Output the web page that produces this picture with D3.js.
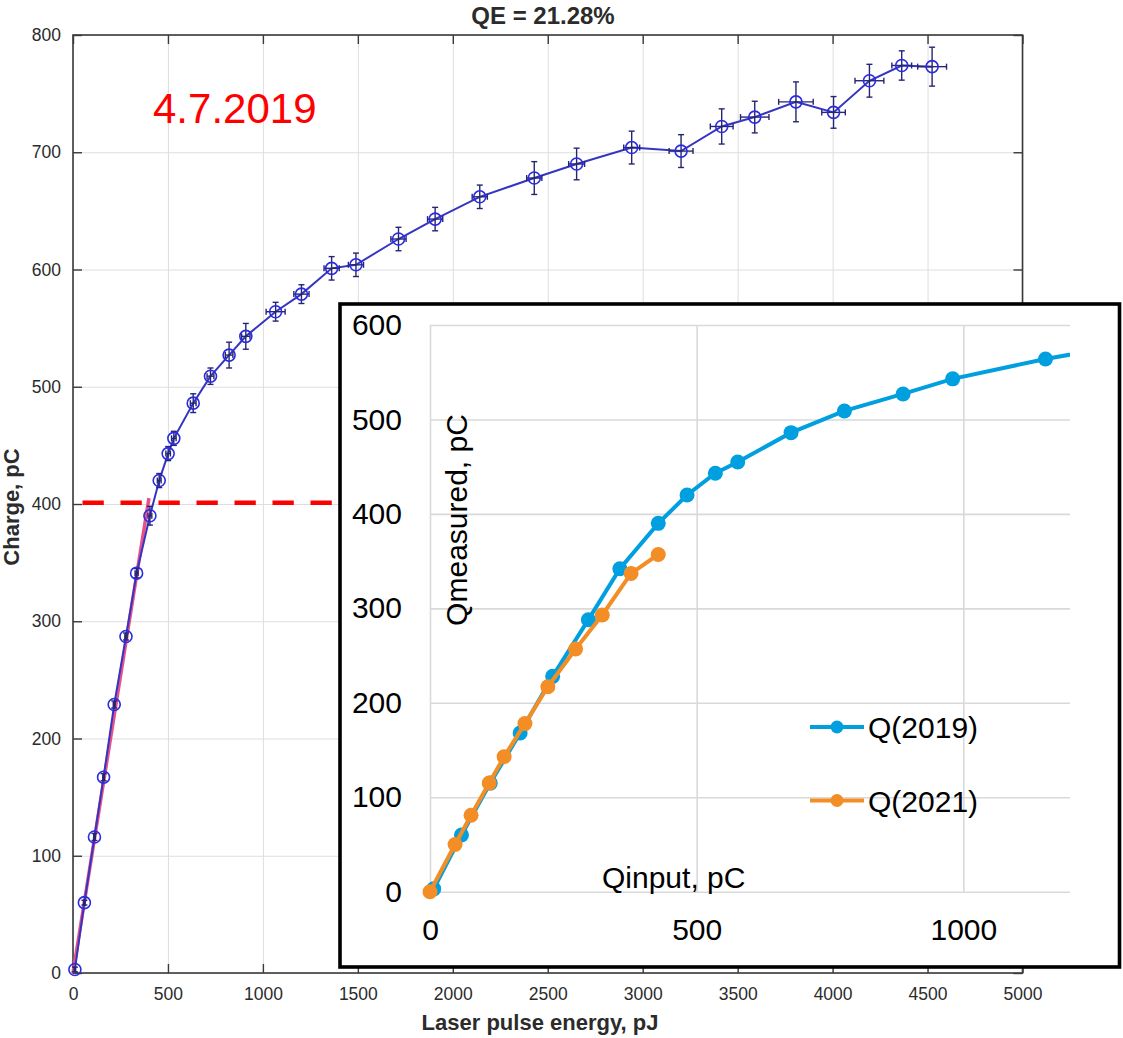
<!DOCTYPE html>
<html>
<head>
<meta charset="utf-8">
<script src="https://cdn.jsdelivr.net/npm/d3@7"></script>
<style>
  body { margin: 0; background: #fff; }
  text { font-family: "Liberation Sans", Arial, Helvetica, sans-serif; }
</style>
</head>
<body>
<div class="chart"></div>
<script>
// main chart: 4.7.2019 measurement, charge vs laser pulse energy
const energy = [10, 60, 113, 161, 217, 279, 335, 405, 454, 501, 531, 633, 724, 822, 910, 1067, 1203,
  1362, 1490, 1714, 1907, 2142, 2429, 2652, 2942, 3202, 3416, 3590, 3807, 4005, 4194, 4364, 4524];
const charge = [3, 60, 116, 167, 229, 287, 341, 390, 420, 443, 456, 486, 509, 527, 543, 564, 579,
  601, 604, 626, 643, 662, 678, 690, 704, 701, 722, 730, 743, 734, 761, 774, 773];
const energyErr = [4, 4, 4, 4, 5, 6, 8, 10, 10, 12, 12, 15, 18, 20, 22, 50, 40,
  40, 40, 40, 40, 40, 40, 42, 42, 63, 60, 75, 91, 62, 76, 52, 76];
const chargeErr = [2, 2, 3, 3, 3, 3, 4, 8, 6, 6, 6, 8, 7, 11, 11, 8, 8,
  10, 10, 10, 10, 10, 14, 13.5, 14, 14, 15, 13.5, 17, 13.5, 14, 12.5, 16.6];
const fitEnergy = [0, 400];
const fitCharge = [0, 405];
const thresholdEnergy = [50, 1400];
const thresholdCharge = 401;
const mainXTicks = [0, 500, 1000, 1500, 2000, 2500, 3000, 3500, 4000, 4500, 5000];
const mainYTicks = [0, 100, 200, 300, 400, 500, 600, 700, 800];
const mainTitle = 'QE = 21.28%';
const dateLabel = '4.7.2019';

// inset: measured vs input charge
const seriesNames = ['Q(2019)', 'Q(2021)'];
const q2019Input = [7, 59, 113, 169, 230, 297, 356, 428, 482, 535, 577, 677, 777, 887, 980, 1154, 1302];
const q2019Measured = [3, 60, 115, 168, 228, 288, 342, 390, 420, 443, 455, 486, 509, 527, 543, 564, 579];
const q2021Input = [0, 47, 77, 111, 139, 178, 221, 273, 323, 377, 428];
const q2021Measured = [0, 50, 81, 115, 143, 178, 217, 257, 293, 337, 357];
const insetXTicks = [0, 500, 1000];
const insetYTicks = [0, 100, 200, 300, 400, 500, 600];

draw();

function draw() {
  const W = 1123, H = 1038;
  const svg = d3.select('.chart').append('svg')
    .attr('width', W)
    .attr('height', H);
  svg.append('rect').attr('width', W).attr('height', H).attr('fill', '#fff');

  const fmt = d3.format('d');

  // ---------- main chart ----------
  const x = d3.scaleLinear().domain([0, 5000]).range([73, 1022.5]);
  const y = d3.scaleLinear().domain([0, 800]).range([973, 35]);
  const ink = '#2b2b2b';

  svg.append('g')
    .attr('transform', `translate(0,${ y(0) })`)
    .call(d3.axisBottom(x).tickValues(mainXTicks).tickSize(-(y(0) - y(800))).tickFormat(''))
    .call(g => g.select('.domain').remove())
    .call(g => g.selectAll('line').attr('stroke', '#dedede'));
  svg.append('g')
    .attr('transform', `translate(${ x(0) },0)`)
    .call(d3.axisLeft(y).tickValues(mainYTicks).tickSize(-(x(5000) - x(0))).tickFormat(''))
    .call(g => g.select('.domain').remove())
    .call(g => g.selectAll('line').attr('stroke', '#dedede'));

  svg.append('rect')
    .attr('x', x(0)).attr('y', y(800))
    .attr('width', x(5000) - x(0)).attr('height', y(0) - y(800))
    .attr('fill', 'none').attr('stroke', '#3a3a3a').attr('stroke-width', 1.6);

  const styleAxis = (g, size) => {
    g.select('.domain').remove();
    g.attr('font-family', '"Liberation Sans", Arial, sans-serif').attr('font-size', size);
    g.selectAll('line').attr('stroke', '#3a3a3a').attr('stroke-width', 1.4);
    g.selectAll('text').attr('fill', ink);
  };

  svg.append('g')
    .attr('transform', `translate(0,${ y(0) })`)
    .call(d3.axisBottom(x).tickValues(mainXTicks).tickFormat(fmt).tickSizeInner(-9).tickSizeOuter(0).tickPadding(15))
    .call(g => styleAxis(g, 17.5));
  svg.append('g')
    .attr('transform', `translate(${ x(0) },0)`)
    .call(d3.axisLeft(y).tickValues(mainYTicks).tickFormat(fmt).tickSizeInner(-9).tickSizeOuter(0).tickPadding(12))
    .call(g => styleAxis(g, 17.5));
  svg.append('g')
    .attr('transform', `translate(0,${ y(800) })`)
    .call(d3.axisTop(x).tickValues(mainXTicks).tickSizeInner(-9).tickSizeOuter(0).tickFormat(''))
    .call(g => styleAxis(g, 17.5));
  svg.append('g')
    .attr('transform', `translate(${ x(5000) },0)`)
    .call(d3.axisRight(y).tickValues(mainYTicks).tickSizeInner(-9).tickSizeOuter(0).tickFormat(''))
    .call(g => styleAxis(g, 17.5));

  svg.append('text')
    .attr('x', 543).attr('y', 24)
    .attr('text-anchor', 'middle')
    .attr('font-size', 24).attr('font-weight', 'bold').attr('fill', ink)
    .text(mainTitle);
  svg.append('text')
    .attr('x', 540).attr('y', 1030)
    .attr('text-anchor', 'middle')
    .attr('font-size', 22).attr('font-weight', 'bold').attr('fill', ink)
    .text('Laser pulse energy, pJ');
  svg.append('text')
    .attr('transform', 'translate(19,507) rotate(-90)')
    .attr('text-anchor', 'middle')
    .attr('font-size', 22).attr('font-weight', 'bold').attr('fill', ink)
    .text('Charge, pC');
  svg.append('text')
    .attr('x', 153).attr('y', 123)
    .attr('font-size', 42).attr('fill', '#ff0000')
    .text(dateLabel);

  // linear fit
  svg.append('line')
    .attr('x1', x(fitEnergy[0])).attr('y1', y(fitCharge[0]))
    .attr('x2', x(fitEnergy[1])).attr('y2', y(fitCharge[1]))
    .attr('stroke', '#e8508a').attr('stroke-width', 3.5);

  const mainLine = d3.line().x(i => x(energy[i])).y(i => y(charge[i]));
  const idx = d3.range(energy.length);
  svg.append('path')
    .attr('d', mainLine(idx))
    .attr('fill', 'none').attr('stroke', '#3535c0').attr('stroke-width', 2);

  // error bars
  const err = svg.append('g').attr('stroke', '#262670').attr('stroke-width', 1.4);
  idx.forEach(i => {
    const cx = x(energy[i]), cy = y(charge[i]);
    const y1 = y(charge[i] - chargeErr[i]), y2 = y(charge[i] + chargeErr[i]);
    const x1 = x(energy[i] - energyErr[i]), x2 = x(energy[i] + energyErr[i]);
    err.append('line').attr('x1', cx).attr('x2', cx).attr('y1', y1).attr('y2', y2);
    err.append('line').attr('x1', cx - 3).attr('x2', cx + 3).attr('y1', y1).attr('y2', y1);
    err.append('line').attr('x1', cx - 3).attr('x2', cx + 3).attr('y1', y2).attr('y2', y2);
    err.append('line').attr('x1', x1).attr('x2', x2).attr('y1', cy).attr('y2', cy);
    err.append('line').attr('x1', x1).attr('x2', x1).attr('y1', cy - 3).attr('y2', cy + 3);
    err.append('line').attr('x1', x2).attr('x2', x2).attr('y1', cy - 3).attr('y2', cy + 3);
  });

  svg.append('g').selectAll('circle')
    .data(idx)
    .join('circle')
    .attr('cx', i => x(energy[i]))
    .attr('cy', i => y(charge[i]))
    .attr('r', 6)
    .attr('fill', 'none')
    .attr('stroke', '#2a2ae0')
    .attr('stroke-width', 1.6);

  // 400 pC threshold
  svg.append('line')
    .attr('x1', x(thresholdEnergy[0])).attr('x2', x(thresholdEnergy[1]))
    .attr('y1', y(thresholdCharge)).attr('y2', y(thresholdCharge))
    .attr('stroke', '#ff0000').attr('stroke-width', 4.5)
    .attr('stroke-dasharray', '21.3,16.7');

  // ---------- inset ----------
  const ix = d3.scaleLinear().domain([0, 1200]).range([430, 1070]);
  const iy = d3.scaleLinear().domain([0, 600]).range([891.7, 325]);

  svg.append('rect')
    .attr('x', 340).attr('y', 304)
    .attr('width', 779.5).attr('height', 663)
    .attr('fill', '#fff').attr('stroke', '#000').attr('stroke-width', 3.6);

  const inset = svg.append('g');
  inset.append('g')
    .attr('transform', `translate(0,${ iy(0) })`)
    .call(d3.axisBottom(ix).tickValues(insetXTicks).tickSize(-(iy(0) - iy(600))).tickFormat(''))
    .call(g => g.select('.domain').remove())
    .call(g => g.selectAll('line').attr('stroke', '#d9d9d9').attr('stroke-width', 1.6));
  inset.append('g')
    .attr('transform', `translate(${ ix(0) },0)`)
    .call(d3.axisLeft(iy).tickValues(insetYTicks).tickSize(-(ix(1200) - ix(0))).tickFormat(''))
    .call(g => g.select('.domain').remove())
    .call(g => g.selectAll('line').attr('stroke', '#d9d9d9').attr('stroke-width', 1.6));

  inset.append('g')
    .attr('transform', `translate(0,${ iy(0) })`)
    .call(d3.axisBottom(ix).tickValues(insetXTicks).tickFormat(fmt).tickSize(0).tickPadding(27))
    .call(g => { styleAxis(g, 30); g.selectAll('text').attr('fill', '#000'); });
  inset.append('g')
    .attr('transform', `translate(${ ix(0) },0)`)
    .call(d3.axisLeft(iy).tickValues(insetYTicks).tickFormat(fmt).tickSize(0).tickPadding(28))
    .call(g => { styleAxis(g, 30); g.selectAll('text').attr('fill', '#000'); });

  inset.append('text')
    .attr('transform', `translate(467,520) rotate(-90)`)
    .attr('text-anchor', 'middle')
    .attr('font-size', 30).attr('fill', '#000')
    .text('Qmeasured, pC');
  inset.append('text')
    .attr('x', 602).attr('y', 888)
    .attr('font-size', 30).attr('fill', '#000')
    .text('Qinput, pC');

  svg.append('clipPath').attr('id', 'insetClip')
    .append('rect').attr('x', 342).attr('y', 306).attr('width', ix(1200) - 342).attr('height', 660);

  const series = [
    { name: seriesNames[0], xs: q2019Input, ys: q2019Measured, color: '#009fdf' },
    { name: seriesNames[1], xs: q2021Input, ys: q2021Measured, color: '#f28e25' }
  ];
  const plot = inset.append('g').attr('clip-path', 'url(#insetClip)');
  series.forEach(s => {
    const ids = d3.range(s.xs.length);
    plot.append('path')
      .attr('d', d3.line().x(i => ix(s.xs[i])).y(i => iy(s.ys[i]))(ids))
      .attr('fill', 'none').attr('stroke', s.color).attr('stroke-width', 4);
    plot.append('g').selectAll('circle')
      .data(ids)
      .join('circle')
      .attr('cx', i => ix(s.xs[i]))
      .attr('cy', i => iy(s.ys[i]))
      .attr('r', 7.5)
      .attr('fill', s.color);
  });

  // legend
  const legend = inset.append('g').attr('transform', 'translate(810,727)');
  series.forEach((s, k) => {
    const row = legend.append('g').attr('transform', `translate(0,${ k * 73.5 })`);
    row.append('line').attr('x1', 0).attr('x2', 54).attr('stroke', s.color).attr('stroke-width', 4);
    row.append('circle').attr('cx', 27).attr('r', 6.5).attr('fill', s.color);
    row.append('text').attr('x', 58).attr('y', 11)
      .attr('font-size', 30).attr('fill', '#000')
      .text(s.name);
  });
}
</script>
</body>
</html>
